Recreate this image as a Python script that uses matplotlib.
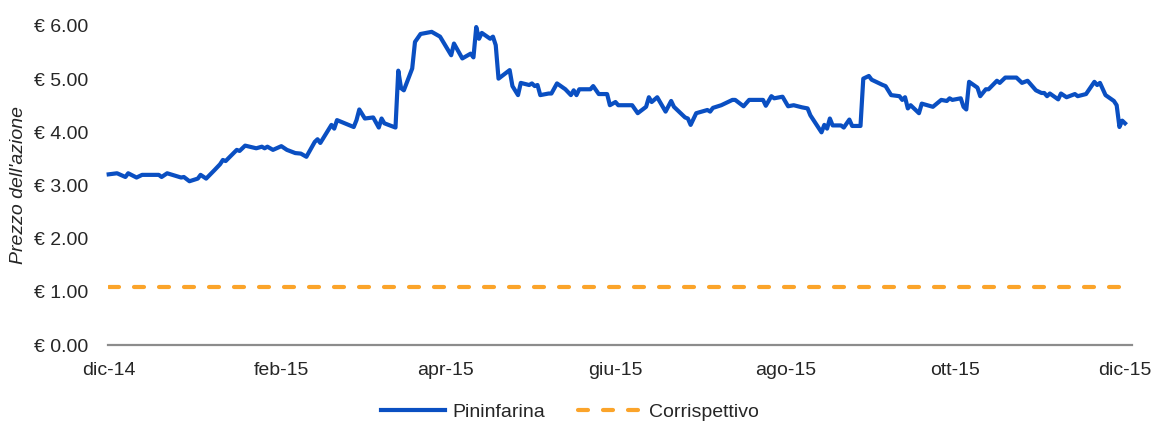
import matplotlib
matplotlib.use("Agg")
import matplotlib.pyplot as plt
import pandas as pd
from matplotlib.lines import Line2D

dates = [
    "2014-12-01", "2014-12-04", "2014-12-07", "2014-12-08", "2014-12-11", "2014-12-13",
    "2014-12-19", "2014-12-20", "2014-12-22", "2014-12-27", "2014-12-28", "2014-12-30",
    "2015-01-02", "2015-01-03", "2015-01-05", "2015-01-08", "2015-01-10", "2015-01-11",
    "2015-01-12", "2015-01-16", "2015-01-17", "2015-01-19", "2015-01-23", "2015-01-25",
    "2015-01-26", "2015-01-27", "2015-01-29", "2015-02-01", "2015-02-03", "2015-02-06",
    "2015-02-08", "2015-02-10", "2015-02-13", "2015-02-14", "2015-02-15", "2015-02-19",
    "2015-02-20", "2015-02-21", "2015-02-27", "2015-02-28", "2015-03-01", "2015-03-03",
    "2015-03-06", "2015-03-08", "2015-03-09", "2015-03-10", "2015-03-14", "2015-03-15",
    "2015-03-16", "2015-03-17", "2015-03-20", "2015-03-21", "2015-03-23", "2015-03-27",
    "2015-03-30", "2015-04-03", "2015-04-04", "2015-04-07", "2015-04-10", "2015-04-11",
    "2015-04-12", "2015-04-13", "2015-04-14", "2015-04-17", "2015-04-18", "2015-04-19",
    "2015-04-20", "2015-04-24", "2015-04-25", "2015-04-27", "2015-04-28", "2015-05-01",
    "2015-05-02", "2015-05-03", "2015-05-04", "2015-05-05", "2015-05-08", "2015-05-09",
    "2015-05-11", "2015-05-14", "2015-05-16", "2015-05-17", "2015-05-18", "2015-05-19",
    "2015-05-23", "2015-05-24", "2015-05-26", "2015-05-29", "2015-05-30", "2015-06-01",
    "2015-06-02", "2015-06-07", "2015-06-09", "2015-06-12", "2015-06-13", "2015-06-14",
    "2015-06-16", "2015-06-19", "2015-06-21", "2015-06-22", "2015-06-26", "2015-06-27",
    "2015-06-28", "2015-06-30", "2015-07-04", "2015-07-05", "2015-07-06", "2015-07-09",
    "2015-07-13", "2015-07-14", "2015-07-17", "2015-07-19", "2015-07-24", "2015-07-25",
    "2015-07-27", "2015-07-28", "2015-07-31", "2015-08-02", "2015-08-04", "2015-08-07",
    "2015-08-09", "2015-08-10", "2015-08-14", "2015-08-15", "2015-08-16", "2015-08-17",
    "2015-08-18", "2015-08-21", "2015-08-22", "2015-08-24", "2015-08-25", "2015-08-28",
    "2015-08-29", "2015-08-31", "2015-09-01", "2015-09-05", "2015-09-06", "2015-09-08",
    "2015-09-11", "2015-09-12", "2015-09-13", "2015-09-14", "2015-09-15", "2015-09-18",
    "2015-09-19", "2015-09-23", "2015-09-26", "2015-09-28", "2015-09-29", "2015-09-30",
    "2015-10-03", "2015-10-04", "2015-10-05", "2015-10-06", "2015-10-09", "2015-10-10",
    "2015-10-12", "2015-10-13", "2015-10-16", "2015-10-17", "2015-10-19", "2015-10-23",
    "2015-10-25", "2015-10-27", "2015-10-30", "2015-11-01", "2015-11-02", "2015-11-03",
    "2015-11-04", "2015-11-07", "2015-11-08", "2015-11-10", "2015-11-13", "2015-11-14",
    "2015-11-17", "2015-11-20", "2015-11-21", "2015-11-22", "2015-11-24", "2015-11-27",
    "2015-11-28", "2015-11-29", "2015-11-30", "2015-12-01",
]

pininfarina = [
    3.21, 3.23, 3.16, 3.23, 3.15, 3.20,
    3.20, 3.16, 3.23, 3.15, 3.16, 3.08,
    3.13, 3.20, 3.13, 3.29, 3.40, 3.48,
    3.46, 3.67, 3.65, 3.75, 3.70, 3.73,
    3.70, 3.73, 3.67, 3.74, 3.67, 3.61,
    3.60, 3.54, 3.82, 3.87, 3.80, 4.14,
    4.07, 4.23, 4.10, 4.23, 4.43, 4.26,
    4.28, 4.09, 4.26, 4.17, 4.09, 5.16,
    4.83, 4.79, 5.20, 5.70, 5.85, 5.89,
    5.80, 5.45, 5.67, 5.39, 5.48, 5.41,
    5.98, 5.76, 5.87, 5.76, 5.80, 5.64,
    5.01, 5.17, 4.87, 4.70, 4.93, 4.89,
    4.92, 4.87, 4.89, 4.70, 4.73, 4.73,
    4.92, 4.81, 4.70, 4.79, 4.70, 4.81,
    4.81, 4.87, 4.72, 4.72, 4.51, 4.57,
    4.51, 4.51, 4.36, 4.48, 4.66, 4.57,
    4.66, 4.39, 4.59, 4.48, 4.28, 4.26,
    4.14, 4.36, 4.42, 4.39, 4.46, 4.51,
    4.61, 4.61, 4.49, 4.61, 4.61, 4.50,
    4.68, 4.64, 4.67, 4.49, 4.51, 4.47,
    4.45, 4.32, 4.00, 4.14, 4.07, 4.26,
    4.13, 4.13, 4.09, 4.24, 4.12, 4.12,
    5.01, 5.06, 4.99, 4.89, 4.87, 4.70,
    4.68, 4.61, 4.66, 4.45, 4.51, 4.36,
    4.54, 4.48, 4.61, 4.59, 4.64, 4.61,
    4.64, 4.48, 4.43, 4.95, 4.84, 4.68,
    4.81, 4.81, 4.97, 4.93, 5.03, 5.03,
    4.93, 4.97, 4.79, 4.74, 4.74, 4.68,
    4.73, 4.62, 4.73, 4.66, 4.72, 4.68,
    4.72, 4.95, 4.89, 4.93, 4.70, 4.59,
    4.51, 4.10, 4.22, 4.17,
]

corrispettivo = 1.10

tick_dates = ["2014-12-01", "2015-02-01", "2015-04-01", "2015-06-01",
              "2015-08-01", "2015-10-01", "2015-12-01"]
tick_labels = ["dic-14", "feb-15", "apr-15", "giu-15", "ago-15", "ott-15", "dic-15"]
y_ticks = [0, 1, 2, 3, 4, 5, 6]

plt.rcParams['font.family'] = ['Liberation Sans', 'DejaVu Sans']

BLUE = '#0A4FC2'
ORANGE = '#FBA42A'
DASH = (2.4, 3.6)

fig = plt.figure(figsize=(11.55, 4.21), dpi=100)
ax_w = (1131.7 - 108) / 1155
ax = fig.add_axes([108 / 1155, 1 - 345 / 421, ax_w, (345 - 26) / 421])

x = pd.to_datetime(dates)
start = pd.Timestamp(tick_dates[0])
xmin = start - pd.Timedelta(hours=6)
xmax = start + pd.Timedelta(days=367.4)

ax.plot(x, pininfarina, color=BLUE, lw=3.0, solid_joinstyle='round', clip_on=False, zorder=3)
ax.plot([start, x[-1]], [corrispettivo, corrispettivo], color=ORANGE, lw=3.0,
        dashes=DASH, dash_capstyle='round', zorder=2)

ax.set_xlim(xmin, xmax)
ax.set_ylim(0, 6)

ax.set_xticks(pd.to_datetime(tick_dates))
ax.set_xticklabels(tick_labels)
ax.set_yticks(y_ticks)
ax.set_yticklabels([f"€ {v:.2f}" for v in y_ticks])

ax.tick_params(axis='both', length=0, labelsize=14, colors='#262626')
ax.tick_params(axis='x', pad=12)
ax.tick_params(axis='y', pad=14)

for s in ['top', 'right', 'left']:
    ax.spines[s].set_visible(False)
ax.spines['bottom'].set_color('#8C8C8C')
ax.spines['bottom'].set_linewidth(1.6)

ax.set_ylabel("Prezzo dell'azione", fontsize=14, style='italic', color='#262626')
ax.yaxis.set_label_coords(-(108 - 27) / (1131.7 - 108), 0.5)

handles = [
    Line2D([], [], color=BLUE, lw=3.0),
    Line2D([], [], color=ORANGE, lw=3.0, dashes=DASH, dash_capstyle='round'),
]
fig.legend(handles, ["Pininfarina", "Corrispettivo"], loc='center',
           bbox_to_anchor=(570 / 1155, 1 - 412 / 421), ncol=2, frameon=False,
           fontsize=14, handlelength=3.3, handletextpad=0.35, columnspacing=1.7,
           labelcolor='#262626')

fig.savefig("out.png", dpi=100)
